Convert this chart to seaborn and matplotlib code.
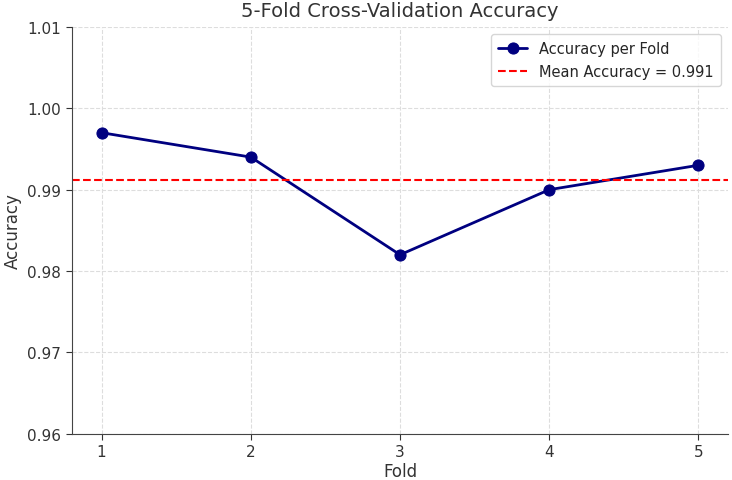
import numpy as np
import pandas as pd
import seaborn as sns
from matplotlib import pyplot as plt

folds = [1, 2, 3, 4, 5]
accuracy = [0.997, 0.994, 0.982, 0.990, 0.993]
mean_acc = np.mean(accuracy)

df = pd.DataFrame({'Fold': folds, 'Accuracy': accuracy})

sns.set_style('whitegrid', {'grid.linestyle': '--', 'grid.color': '#dddddd',
                            'axes.edgecolor': '#444444'})
plt.rcParams['font.family'] = ['DejaVu Sans']

fig, ax = plt.subplots(figsize=(7.32, 4.81), dpi=100)
sns.lineplot(data=df, x='Fold', y='Accuracy', marker='o', markersize=8,
             color='navy', linewidth=2, markeredgecolor='navy',
             label='Accuracy per Fold', ax=ax)
ax.axhline(mean_acc, color='red', linestyle='--', linewidth=1.5,
           label=f'Mean Accuracy = {mean_acc:.3f}')

ax.set_ylim(0.96, 1.01)
ax.set_xticks(folds)
ax.set_yticks([0.96, 0.97, 0.98, 0.99, 1.00, 1.01])
ax.set_title('5-Fold Cross-Validation Accuracy', fontsize=14, color='#333333', pad=8)
ax.set_xlabel('Fold', fontsize=12, color='#333333', labelpad=2)
ax.set_ylabel('Accuracy', fontsize=12, color='#333333')
ax.tick_params(axis='both', labelsize=11, colors='#333333', length=4, left=True, bottom=True)
sns.despine(ax=ax)
ax.legend(loc='upper right', fontsize=10.5, frameon=True, borderpad=0.5)

fig.subplots_adjust(left=0.098, right=0.995, top=0.942, bottom=0.096)
fig.savefig('out.png', dpi=100)
